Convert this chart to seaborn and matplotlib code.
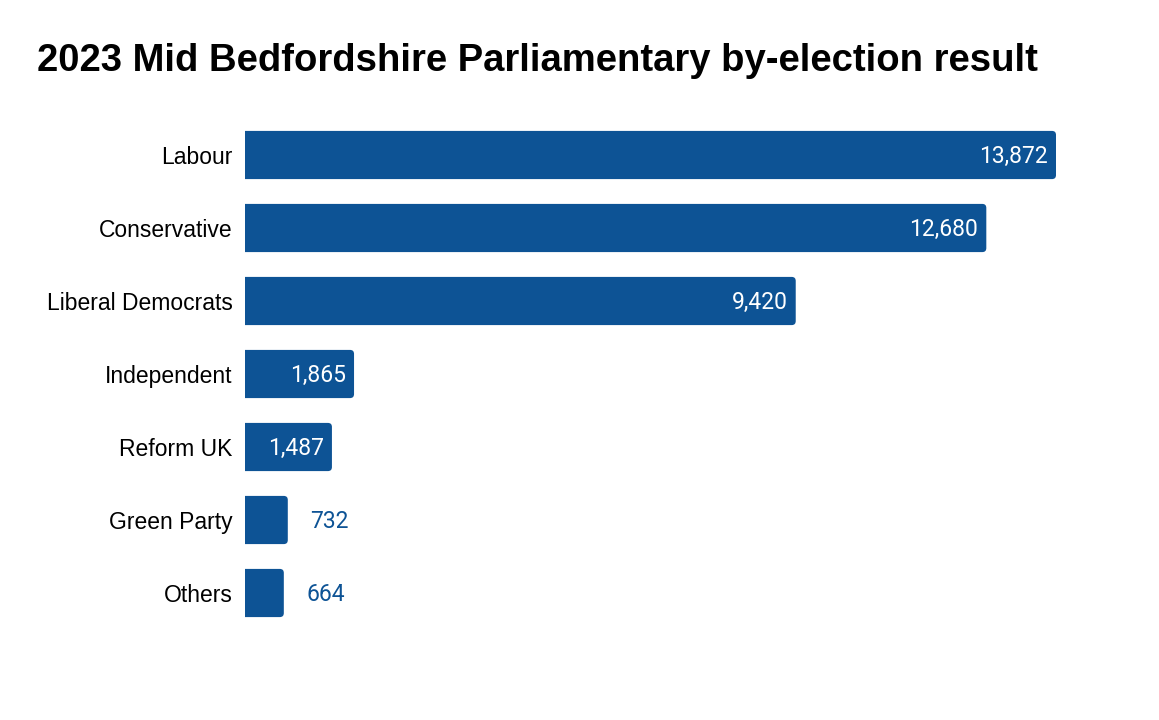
import pandas as pd
import matplotlib.pyplot as plt
import seaborn as sns
from matplotlib.patches import FancyBboxPatch

# by-election result data
parties = ['Labour', 'Conservative', 'Liberal Democrats', 'Independent',
           'Reform UK', 'Green Party', 'Others']
votes = [13872, 12680, 9420, 1865, 1487, 732, 664]

df = pd.DataFrame({'Party': parties, 'Votes': votes})

bar_color = '#0d5395'

sns.set_theme(style='white')
plt.rcParams['font.family'] = ['Liberation Sans', 'DejaVu Sans']

fig = plt.figure(figsize=(11.59, 7.2), dpi=100)
# axes: left edge at 245 px, rows 73 px apart
ax = fig.add_axes([245 / 1159, 1 - 629.5 / 720, (1100 - 245) / 1159, (629.5 - 118.5) / 720])

sns.barplot(data=df, x='Votes', y='Party', color=bar_color, saturation=1,
            width=0.66, ax=ax)

px_per_unit = (1056 - 245) / 13872
ax.set_xlim(0, (1100 - 245) / px_per_unit)
ax.set_ylim(6.5, -0.5)

# swap the plain bars for ones with slightly rounded right corners
r_px = 4
for p in list(ax.patches):
    x, y = p.get_x(), p.get_y()
    w, h = p.get_width(), p.get_height()
    p.remove()
    pad = 200  # push the left corners past the clipped axis edge
    ax.add_patch(FancyBboxPatch((x - pad, y), w + pad, h,
                                boxstyle=f'round,pad=0,rounding_size={r_px / px_per_unit}',
                                mutation_aspect=(1 / 73) * px_per_unit,
                                facecolor=bar_color, edgecolor='none'))

# value labels
for i, v in enumerate(votes):
    if v > 1000:
        ax.annotate(f'{v:,}', xy=(v, i), xytext=(-6, -1), textcoords='offset points',
                    ha='right', va='center', color='white', fontsize=16.5,
                    family='Roboto')
    else:
        ax.annotate(f'{v:,}', xy=(v, i), xytext=(16, -1), textcoords='offset points',
                    ha='left', va='center', color=bar_color, fontsize=16.5,
                    family='Roboto')

ax.set_xlabel('')
ax.set_ylabel('')
ax.set_xticks([])
ax.tick_params(axis='y', length=0, pad=9, labelsize=16.5, labelcolor='black')
sns.despine(ax=ax, left=True, bottom=True)

fig.text(37 / 1159, 1 - 61 / 720, '2023 Mid Bedfordshire Parliamentary by-election result',
         fontsize=27.5, fontweight='bold', ha='left', va='center', color='black')

fig.savefig('out.png', dpi=100)
